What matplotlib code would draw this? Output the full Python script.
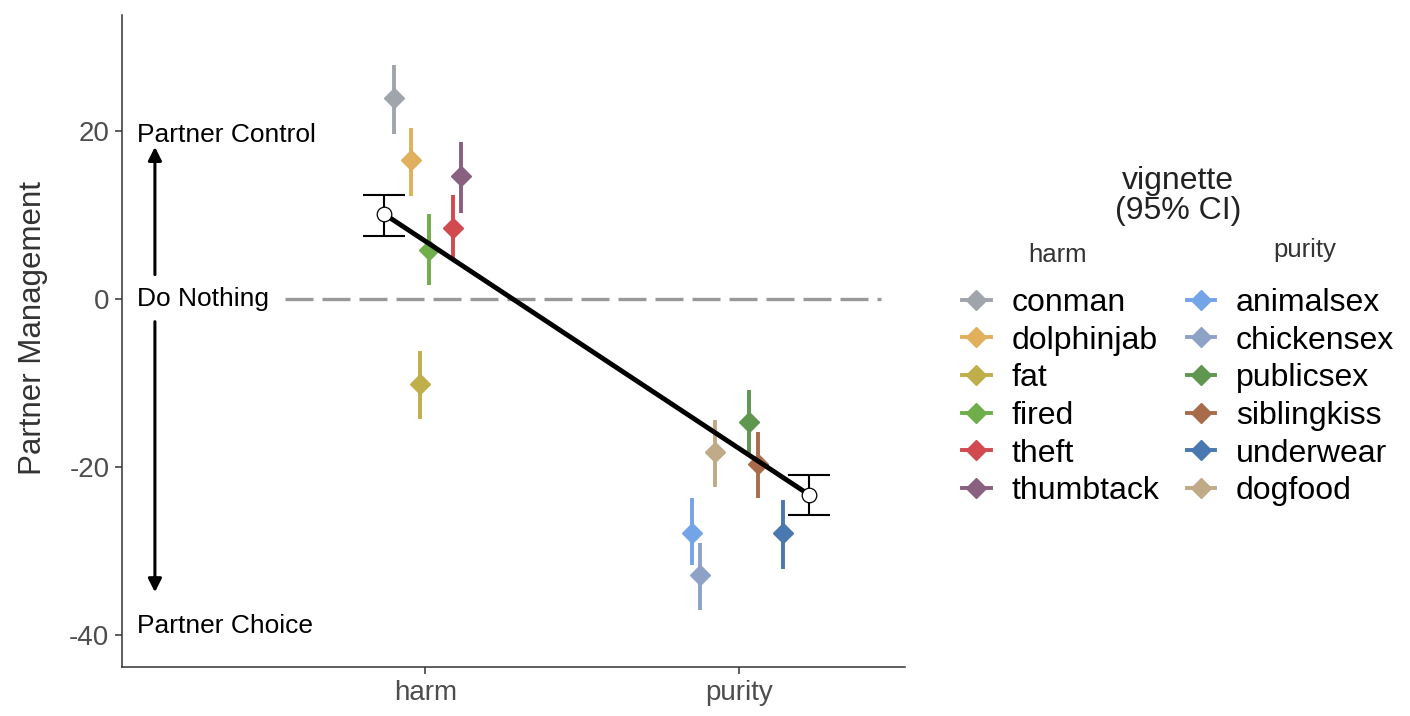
import matplotlib
matplotlib.use('Agg')
import matplotlib.pyplot as plt
from matplotlib.lines import Line2D

plt.rcParams['font.family'] = ['Liberation Sans', 'DejaVu Sans']
plt.rcParams['axes.unicode_minus'] = False

# - Data
categories = ['harm', 'purity']

harm_names = ['conman', 'dolphinjab', 'fat', 'fired', 'theft', 'thumbtack']
harm_mean = [23.9, 16.5, -10.1, 5.8, 8.5, 14.6]
harm_lo = [19.6, 12.2, -14.3, 1.7, 4.9, 10.2]
harm_hi = [27.9, 20.3, -6.2, 10.1, 12.4, 18.7]
harm_colors = ['#a0a4ab', '#e0b05c', '#c0ae4a', '#6fae4a', '#d04a50', '#8a6080']

purity_names = ['animalsex', 'chickensex', 'publicsex', 'siblingkiss', 'underwear', 'dogfood']
purity_mean = [-27.8, -32.9, -14.6, -19.6, -27.8, -18.2]
purity_lo = [-31.7, -37.0, -18.3, -23.7, -32.1, -22.4]
purity_hi = [-23.7, -29.1, -10.8, -15.8, -23.9, -14.4]
purity_colors = ['#73a4e8', '#8ea2c8', '#5f9650', '#a86c4a', '#4a78b0', '#c0aa88']

summary_mean = [10.1, -23.3]
summary_lo = [7.5, -25.7]
summary_hi = [12.4, -20.95]

# jitter of the vignettes around each category
harm_jitter = [-0.099, -0.045, -0.016, 0.010, 0.089, 0.115]
purity_jitter = [-0.150, -0.125, 0.032, 0.061, 0.141, -0.077]
summary_jitter = [-0.131, 0.224]

# - Figure
fig = plt.figure(figsize=(14.1, 7.16), dpi=100)
ax = fig.add_axes([122/1410, 49/716, 783/1410, 652/716])

def pointranges(x0, jit, mean, lo, hi, colors):
    for j, m, l, h, c in zip(jit, mean, lo, hi, colors):
        ax.plot([x0 + j, x0 + j], [l, h], color=c, lw=2.8, solid_capstyle='butt', zorder=2)
        ax.plot(x0 + j, m, marker='D', ms=10.5, color=c, mec=c, zorder=3)

pointranges(1, harm_jitter, harm_mean, harm_lo, harm_hi, harm_colors)
pointranges(2, purity_jitter, purity_mean, purity_lo, purity_hi, purity_colors)

sx = [i + 1 + j for i, j in enumerate(summary_jitter)]
ax.plot([0.553, 2.455], [0, 0], color='#999999', lw=2.4, dashes=(8.4, 2.7), zorder=1)
ax.errorbar(sx, summary_mean,
            yerr=[[m - l for m, l in zip(summary_mean, summary_lo)],
                  [h - m for m, h in zip(summary_mean, summary_hi)]],
            fmt='none', ecolor='black', elinewidth=1.5, capsize=14.8, capthick=1.5, zorder=4)
ax.plot(sx, summary_mean, color='black', lw=3.5, zorder=5)
ax.plot(sx, summary_mean, 'o', ms=10.5, mfc='white', mec='black', mew=0.9, zorder=6)

# - Annotations
ax.text(0.080, 19.5, 'Partner Control', fontsize=19, va='center', ha='left')
ax.text(0.080, 0, 'Do Nothing', fontsize=19, va='center', ha='left')
ax.text(0.080, -38.9, 'Partner Choice', fontsize=19, va='center', ha='left')
arr = dict(arrowstyle='-|>', lw=2.2, color='black', mutation_scale=20, shrinkA=0, shrinkB=0)
ax.annotate('', xy=(0.137, 18.1), xytext=(0.137, 2.9), arrowprops=arr)
ax.annotate('', xy=(0.137, -34.9), xytext=(0.137, -2.7), arrowprops=arr)

# - Axes
ax.set_xlim(0.032, 2.53)
ax.set_ylim(-43.8, 33.8)
ax.set_xticks([1, 2])
ax.set_xticklabels(categories)
ax.set_yticks([-40, -20, 0, 20])
ax.tick_params(labelsize=20, colors='#333333', labelcolor='#4d4d4d', length=5, width=1.1, pad=4)
for s in ['top', 'right']:
    ax.spines[s].set_visible(False)
for s in ['left', 'bottom']:
    ax.spines[s].set_color('#333333')
    ax.spines[s].set_linewidth(1.1)
ax.set_ylabel('Partner Management', fontsize=22.5, color='#333333')
ax.yaxis.set_label_coords(-0.095, 0.52)

# - Legend
handles = []
labels = []
for names, colors in [(harm_names, harm_colors), (purity_names, purity_colors)]:
    for n, c in zip(names, colors):
        handles.append(Line2D([], [], color=c, lw=2.8, marker='D', ms=10))
        labels.append(n)
fig.legend(handles, labels, ncol=2, loc='upper left', bbox_to_anchor=(962/1410, (716-288)/716),
           frameon=False, fontsize=23, borderpad=0, borderaxespad=0, handlelength=0.9,
           handletextpad=0.65, columnspacing=0.85, labelspacing=0.24)
fig.text(1178/1410, 1 - 196/716, 'vignette\n(95% CI)', fontsize=23, color='#222222',
         ha='center', va='center', linespacing=1.0)
fig.text(1058/1410, 1 - 255/716, 'harm', fontsize=18.5, color='#333333', ha='center', va='center')
fig.text(1305/1410, 1 - 250/716, 'purity', fontsize=18.5, color='#333333', ha='center', va='center')

plt.savefig('out.png', dpi=100)
